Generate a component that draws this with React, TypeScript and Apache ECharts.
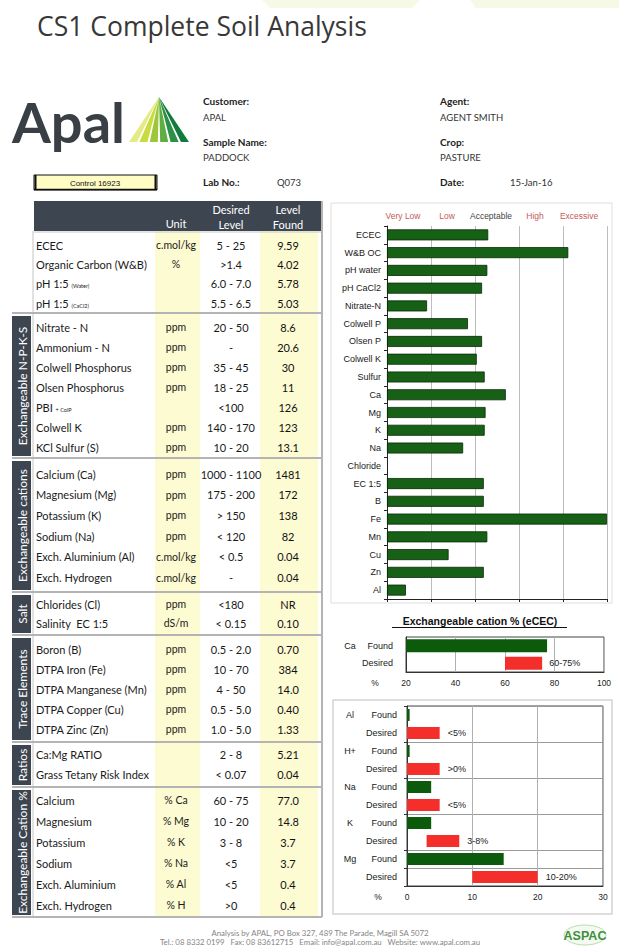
import React, { useEffect, useRef } from 'react';
import * as echarts from 'echarts';

// ---------- DATA ----------
const sectionNames = ['', 'Exchangeable N-P-K-S', 'Exchangeable cations', 'Salt', 'Trace Elements', 'Ratios', 'Exchangeable Cation %'];
const tableSection = [0, 0, 0, 0, 1, 1, 1, 1, 1, 1, 1, 2, 2, 2, 2, 2, 2, 3, 3, 4, 4, 4, 4, 4, 5, 5, 6, 6, 6, 6, 6, 6];
const tableParams = [
  'ECEC', 'Organic Carbon (W&B)', 'pH 1:5 {s|(Water)}', 'pH 1:5 {s|(CaCl2)}',
  'Nitrate - N', 'Ammonium - N', 'Colwell Phosphorus', 'Olsen Phosphorus', 'PBI {s|+ ColP}', 'Colwell K', 'KCl Sulfur (S)',
  'Calcium (Ca)', 'Magnesium (Mg)', 'Potassium (K)', 'Sodium (Na)', 'Exch. Aluminium (Al)', 'Exch. Hydrogen',
  'Chlorides (Cl)', 'Salinity  EC 1:5',
  'Boron (B)', 'DTPA Iron (Fe)', 'DTPA Manganese (Mn)', 'DTPA Copper (Cu)', 'DTPA Zinc (Zn)',
  'Ca:Mg RATIO', 'Grass Tetany Risk Index',
  'Calcium', 'Magnesium', 'Potassium', 'Sodium', 'Exch. Aluminium', 'Exch. Hydrogen',
];
const tableUnits = [
  'c.mol/kg', '%', '', '',
  'ppm', 'ppm', 'ppm', 'ppm', '', 'ppm', 'ppm',
  'ppm', 'ppm', 'ppm', 'ppm', 'c.mol/kg', 'c.mol/kg',
  'ppm', 'dS/m',
  'ppm', 'ppm', 'ppm', 'ppm', 'ppm',
  '', '',
  '% Ca', '% Mg', '% K', '% Na', '% Al', '% H',
];
const tableDesired = [
  '5 - 25', '>1.4', '6.0 - 7.0', '5.5 - 6.5',
  '20 - 50', '-', '35 - 45', '18 - 25', '<100', '140 - 170', '10 - 20',
  '1000 - 1100', '175 - 200', '> 150', '< 120', '< 0.5', '-',
  '<180', '< 0.15',
  '0.5 - 2.0', '10 - 70', '4 - 50', '0.5 - 5.0', '1.0 - 5.0',
  '2 - 8', '< 0.07',
  '60 - 75', '10 - 20', '3 - 8', '<5', '<5', '>0',
];
const tableFound = [
  '9.59', '4.02', '5.78', '5.03',
  '8.6', '20.6', '30', '11', '126', '123', '13.1',
  '1481', '172', '138', '82', '0.04', '0.04',
  'NR', '0.10',
  '0.70', '384', '14.0', '0.40', '1.33',
  '5.21', '0.04',
  '77.0', '14.8', '3.7', '3.7', '0.4', '0.4',
];

const levelBands = ['Very Low', 'Low', 'Acceptable', 'High', 'Excessive'];
const mainCategories = ['ECEC', 'W&B OC', 'pH water', 'pH CaCl2', 'Nitrate-N', 'Colwell P', 'Olsen P', 'Colwell K', 'Sulfur', 'Ca', 'Mg', 'K', 'Na', 'Chloride', 'EC 1:5', 'B', 'Fe', 'Mn', 'Cu', 'Zn', 'Al'];
const mainLevels = [2.3, 4.12, 2.28, 2.16, 0.91, 1.84, 2.16, 2.04, 2.22, 2.7, 2.24, 2.22, 1.73, null, 2.2, 2.2, 5.0, 2.28, 1.4, 2.2, 0.43];

const caGroup = 'Ca';
const caFound = 77.0;
const caDesiredLow = 60;
const caDesiredHigh = 75;
const caDesiredLabel = '60-75%';

const cationGroups = ['Al', 'H+', 'Na', 'K', 'Mg'];
const cationFound = [0.4, 0.4, 3.7, 3.7, 14.8];
const cationDesiredLow = [0, 0, 0, 3, 10];
const cationDesiredHigh = [5, 5, 5, 8, 20];
const cationDesiredLabel = ['<5%', '>0%', '<5%', '3-8%', '10-20%'];

// ---------- LAYOUT ----------
const SEC_TOP = [231, 313, 458, 592, 635, 742, 787];
const SEC_BOTTOM = 917;
const SEC_FIRST = [245, 327, 474, 604, 649, 754, 800];
const SEC_PITCH = [19.4, 20, 20.7, 19, 20, 20, 21];
const DARK = '#3c4550';
const YELLOW = '#fdfbd2';
const TFONT = 'Lato';

function txt(x: number, y: number, text: string, o: any = {}) {
  return {
    type: 'text', x, y, silent: true, rotation: o.rotation || 0,
    style: {
      text,
      fill: o.fill || '#1a1a1a',
      fontSize: o.fontSize || 11,
      fontFamily: o.fontFamily || TFONT,
      fontWeight: o.fontWeight || 'normal',
      align: o.align || 'left', textAlign: o.align || 'left',
      verticalAlign: 'middle', textVerticalAlign: 'middle',
      rich: o.rich,
    },
  };
}
function line(x1: number, y1: number, x2: number, y2: number, stroke: string, lineWidth = 1) {
  return { type: 'line', silent: true, shape: { x1, y1, x2, y2 }, style: { stroke, lineWidth } };
}
function rect(x: number, y: number, width: number, height: number, style: any) {
  return { type: 'rect', silent: true, shape: { x, y, width, height }, style };
}

function buildGraphic() {
  const g: any[] = [];
  // faint decorations at the top
  g.push({ type: 'polygon', silent: true, shape: { points: [[262, 0], [420, 0], [412, 8], [270, 8]] }, style: { fill: '#f6f9e6' } });
  g.push({ type: 'polygon', silent: true, shape: { points: [[470, 0], [619, 0], [619, 8], [476, 8]] }, style: { fill: '#f6f9e6' } });
  // title
  g.push(txt(37, 26, 'CS1 Complete Soil Analysis', { fontSize: 26.5, fontFamily: 'Open Sans', fill: '#383838' }));
  // logo
  g.push(txt(12, 121, 'Apal', { fontSize: 56, fontWeight: 'bold', fontFamily: 'Lato', fill: '#3a3f45' }));
  const fanColors = ['#e4eb84', '#c9dc3e', '#9dc73b', '#5fae41', '#2a9146', '#137a3d'];
  const apex = [159, 97];
  for (let i = 0; i < 6; i++) {
    const x0 = 129 + i * 10.4;
    g.push({ type: 'polygon', silent: true, shape: { points: [apex, [x0, 142], [x0 + 8, 142]] }, style: { fill: fanColors[i] } });
  }
  // header info
  const lab = { fontSize: 10, fontWeight: 'bold', fill: '#222' };
  const val = { fontSize: 9.5, fill: '#333' };
  g.push(txt(203, 101, 'Customer:', lab));
  g.push(txt(203, 117, 'APAL', val));
  g.push(txt(203, 142, 'Sample Name:', lab));
  g.push(txt(203, 157, 'PADDOCK', val));
  g.push(txt(203, 182, 'Lab No.:', lab));
  g.push(txt(277, 182, 'Q073', val));
  g.push(txt(440, 101, 'Agent:', lab));
  g.push(txt(440, 117, 'AGENT SMITH', val));
  g.push(txt(440, 142, 'Crop:', lab));
  g.push(txt(440, 157, 'PASTURE', val));
  g.push(txt(440, 182, 'Date:', lab));
  g.push(txt(510, 182, '15-Jan-16', val));
  // control box
  g.push(rect(34, 175, 123, 15, { fill: '#fffcc4', stroke: '#111', lineWidth: 1 }));
  g.push(line(35.5, 175, 35.5, 190, '#111', 2));
  g.push(line(155.5, 175, 155.5, 190, '#111', 2));
  g.push(line(34, 189.5, 157, 189.5, '#111', 1.5));
  g.push(txt(95, 183, 'Control 16923', { fontSize: 8, fontFamily: 'Liberation Sans', align: 'center', fill: '#111' }));

  // ---- table ----
  g.push(rect(155, 231, 45, SEC_BOTTOM - 231, { fill: YELLOW }));
  g.push(rect(260, 231, 58, SEC_BOTTOM - 231, { fill: YELLOW }));
  g.push(rect(34, 201, 288, 30, { fill: DARK }));
  const hw = { fill: '#ffffff', fontSize: 11, align: 'center' };
  g.push(txt(176, 223, 'Unit', hw));
  g.push(txt(231, 209, 'Desired', hw));
  g.push(txt(231, 224, 'Level', hw));
  g.push(txt(288, 209, 'Level', hw));
  g.push(txt(288, 224, 'Found', hw));
  g.push(line(34, 232, 322, 232, '#c8c8c8', 1));
  g.push(line(33, 231, 33, SEC_BOTTOM, '#c4c4c4', 1));
  g.push(line(322, 201, 322, SEC_BOTTOM, '#b4b4b4', 2));
  for (let s = 1; s < SEC_TOP.length; s++) {
    g.push(line(12, SEC_TOP[s], 322, SEC_TOP[s], '#b4b4b4', 2));
  }
  g.push(line(12, SEC_BOTTOM, 322, SEC_BOTTOM, '#b4b4b4', 2));
  for (let s = 1; s < sectionNames.length; s++) {
    const top = SEC_TOP[s] + 3;
    const bot = (s + 1 < SEC_TOP.length ? SEC_TOP[s + 1] : SEC_BOTTOM) - 2;
    g.push(rect(12, top, 19, bot - top, { fill: DARK }));
    g.push(txt(22, (top + bot) / 2, sectionNames[s], { fill: '#ffffff', fontSize: 12, align: 'center', rotation: Math.PI / 2 }));
  }
  const rowIdx: number[] = [0, 0, 0, 0, 0, 0, 0];
  const rich = { s: { fontSize: 5.5, fontFamily: TFONT, fill: '#1a1a1a', padding: [5, 0, 0, 0] } };
  for (let i = 0; i < tableParams.length; i++) {
    const s = tableSection[i];
    const y = SEC_FIRST[s] + rowIdx[s] * SEC_PITCH[s];
    rowIdx[s]++;
    g.push(txt(36, y, tableParams[i], { rich }));
    if (tableUnits[i]) g.push(txt(176, y, tableUnits[i], { align: 'center', fontSize: 10.5 }));
    g.push(txt(231, y, tableDesired[i], { align: 'center' }));
    g.push(txt(288, y, tableFound[i], { align: 'center', fill: '#111' }));
  }

  // ---- right panel frames & texts ----
  g.push(rect(331, 203, 281, 400, { fill: 'none', stroke: '#dedede', lineWidth: 1 }));
  g.push(rect(333, 700, 279, 214, { fill: 'none', stroke: '#d4d4d4', lineWidth: 1.5 }));
  g.push(txt(480, 621, 'Exchangeable cation % (eCEC)', { fontSize: 10.5, fontWeight: 'bold', fontFamily: 'Liberation Sans', align: 'center', fill: '#111' }));
  g.push(line(392, 627.5, 567, 627.5, '#111', 1));
  g.push(txt(375, 683, '%', { fontSize: 8.5, fontFamily: 'Liberation Sans', align: 'center', fill: '#222' }));
  g.push(txt(378, 897, '%', { fontSize: 8.5, fontFamily: 'Liberation Sans', align: 'center', fill: '#222' }));

  // ---- footer ----
  g.push(txt(320, 933, 'Analysis by APAL, PO Box 327, 489 The Parade, Magill SA 5072', { fontSize: 7.8, align: 'center', fill: '#858585' }));
  g.push(txt(320, 942, 'Tel.: 08 8332 0199   Fax: 08 83612715   Email: info@apal.com.au   Website: www.apal.com.au', { fontSize: 7.8, align: 'center', fill: '#858585' }));
  g.push({ type: 'ellipse', silent: true, shape: { cx: 585, cy: 935, rx: 21, ry: 10 }, style: { fill: '#f4faf0', stroke: '#b9ddb0', lineWidth: 1 } });
  g.push(txt(585, 936, 'ASPAC', { fontSize: 12.5, fontWeight: 'bold', fontFamily: 'Liberation Sans', align: 'center', fill: '#3f8f3f' }));
  return g;
}

function buildOption() {
  const lowerCats: string[] = [];
  const lowerFound: any[] = [];
  const lowerBase: any[] = [];
  const lowerRange: any[] = [];
  cationGroups.forEach((grp, i) => {
    lowerCats.push(grp + '|Found', grp + '|Desired');
    lowerFound.push(cationFound[i], '-');
    lowerBase.push('-', cationDesiredLow[i]);
    lowerRange.push('-', cationDesiredHigh[i] - cationDesiredLow[i]);
  });
  const caCats = [caGroup + '|Found', caGroup + '|Desired'];
  const catFmt = (v: string) => {
    const [grp, t] = v.split('|');
    return '{g|' + (t === 'Found' ? grp : '') + '}{f|' + t + '}';
  };
  const lbl = { fontSize: 9, fontFamily: 'Liberation Sans', color: '#1a1a1a' };
  const GREEN = '#0c5b0c';
  const RED = '#f42e2b';

  return {
    animation: false,
    textStyle: { fontFamily: 'Liberation Sans' },
    grid: [
      { left: 387, top: 226, width: 220, height: 373 },
      { left: 406, top: 637, width: 198, height: 35, show: true, borderColor: '#444', borderWidth: 1 },
      { left: 407, top: 706, width: 196, height: 180, show: true, borderColor: '#444', borderWidth: 1 },
    ],
    xAxis: [
      {
        type: 'value', gridIndex: 0, min: 0, max: 5, interval: 1,
        axisLine: { show: true, lineStyle: { color: '#222' } },
        axisTick: { show: true, length: 3, lineStyle: { color: '#222' } },
        axisLabel: { show: false },
        splitLine: { show: true, lineStyle: { color: '#bdbdbd' } },
      },
      {
        type: 'category', gridIndex: 0, position: 'top', data: levelBands,
        axisLine: { show: false }, axisTick: { show: false }, splitLine: { show: false },
        axisLabel: {
          fontSize: 8.5, margin: 6, padding: [0, 12, 0, 0], interval: 0,
          color: (_v: any, i: number) => (i === 2 ? '#444444' : '#c45a5a'),
        },
      },
      {
        type: 'value', gridIndex: 1, min: 20, max: 100, interval: 20,
        axisLine: { show: true, lineStyle: { color: '#333' } },
        axisTick: { show: false },
        axisLabel: { fontSize: 8.5, color: '#222', margin: 6 },
        splitLine: { show: true, lineStyle: { color: '#b0b0b0' } },
      },
      {
        type: 'value', gridIndex: 2, min: 0, max: 30, interval: 10,
        axisLine: { show: true, lineStyle: { color: '#333' } },
        axisTick: { show: false },
        axisLabel: { fontSize: 8.5, color: '#222', margin: 6 },
        splitLine: { show: true, lineStyle: { color: '#b0b0b0' } },
      },
    ],
    yAxis: [
      {
        type: 'category', gridIndex: 0, data: mainCategories, inverse: true,
        axisLine: { show: true, lineStyle: { color: '#222' } },
        axisTick: { show: true, length: 3, interval: 0, lineStyle: { color: '#222' } },
        axisLabel: { ...lbl, margin: 6, interval: 0 },
        splitLine: { show: false },
      },
      {
        type: 'category', gridIndex: 1, data: caCats, inverse: true,
        axisLine: { show: true, lineStyle: { color: '#333' } },
        axisTick: { show: false },
        axisLabel: {
          margin: 13, interval: 0, formatter: catFmt,
          rich: { g: { ...lbl, width: 18, align: 'center' }, f: { ...lbl, width: 34, align: 'right' } },
        },
      },
      {
        type: 'category', gridIndex: 2, data: lowerCats, inverse: true,
        axisLine: { show: true, lineStyle: { color: '#333' } },
        axisTick: { show: true, length: 3, interval: 1, lineStyle: { color: '#333' } },
        axisLabel: {
          margin: 10, interval: 0, formatter: catFmt,
          rich: { g: { ...lbl, width: 26, align: 'center' }, f: { ...lbl, width: 34, align: 'right' } },
        },
        splitLine: { show: true, interval: 1, lineStyle: { color: '#9a9a9a' } },
      },
    ],
    series: [
      {
        type: 'bar', xAxisIndex: 0, yAxisIndex: 0, data: mainLevels, barWidth: 11,
        itemStyle: { color: '#176117', borderColor: '#082808', borderWidth: 0.8 },
        silent: true,
      },
      {
        type: 'bar', xAxisIndex: 2, yAxisIndex: 1, stack: 'caF', data: [caFound, '-'], barWidth: 13,
        barGap: '-100%', clip: true, itemStyle: { color: GREEN }, silent: true,
      },
      {
        type: 'bar', xAxisIndex: 2, yAxisIndex: 1, stack: 'caD', data: ['-', caDesiredLow], barWidth: 13,
        barGap: '-100%', clip: true, itemStyle: { color: 'rgba(0,0,0,0)' }, silent: true,
      },
      {
        type: 'bar', xAxisIndex: 2, yAxisIndex: 1, stack: 'caD', data: ['-', caDesiredHigh - caDesiredLow], barWidth: 13,
        barGap: '-100%', clip: true, itemStyle: { color: RED }, silent: true,
        label: { show: true, position: 'right', distance: 7, fontSize: 9, color: '#222', formatter: () => caDesiredLabel },
      },
      {
        type: 'bar', xAxisIndex: 3, yAxisIndex: 2, stack: 'lf', data: lowerFound, barWidth: 12,
        barGap: '-100%', clip: true, itemStyle: { color: GREEN }, silent: true,
      },
      {
        type: 'bar', xAxisIndex: 3, yAxisIndex: 2, stack: 'ld', data: lowerBase, barWidth: 12,
        barGap: '-100%', clip: true, itemStyle: { color: 'rgba(0,0,0,0)' }, silent: true,
      },
      {
        type: 'bar', xAxisIndex: 3, yAxisIndex: 2, stack: 'ld', data: lowerRange, barWidth: 12,
        barGap: '-100%', clip: true, itemStyle: { color: RED }, silent: true,
        label: {
          show: true, position: 'right', distance: 8, fontSize: 9, color: '#222',
          formatter: (p: any) => cationDesiredLabel[Math.floor(p.dataIndex / 2)],
        },
      },
    ],
    graphic: { elements: buildGraphic() },
  };
}

export default function App() {
  const ref = useRef<HTMLDivElement>(null);
  useEffect(() => {
    document.body.style.margin = '0';
    const chart = echarts.init(ref.current!, null, { renderer: 'svg' });
    chart.setOption(buildOption() as any);
    return () => chart.dispose();
  }, []);
  return <div ref={ref} style={{ width: 619, height: 947 }} />;
}
